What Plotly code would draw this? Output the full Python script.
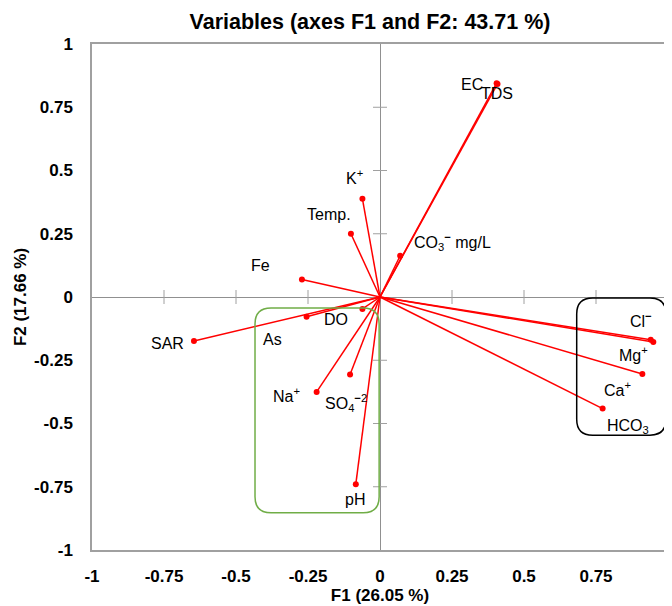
import plotly.graph_objects as go

# ---------------- data ----------------
variables = ["EC", "TDS", "K+", "Temp.", "CO3- mg/L", "Fe", "SAR", "As", "DO",
             "Na+", "SO4-2", "pH", "Cl-", "Mg+", "Ca+", "HCO3"]
labels_html = ["EC", "TDS", "K<sup>+</sup>", "Temp.",
               "CO<sub>3</sub><sup><b>−</b></sup> mg/L", "Fe", "SAR", "As", "DO",
               "Na<sup>+</sup>", "SO<sub>4</sub><sup><b>−</b>2</sup>", "pH",
               "Cl<sup><b>−</b></sup>", "Mg<sup>+</sup>", "Ca<sup>+</sup>", "HCO<sub>3</sub>"]
f1 = [0.405, 0.408, -0.061, -0.101, 0.070, -0.271, -0.646, -0.255, -0.061,
      -0.220, -0.104, -0.084, 0.949, 0.940, 0.911, 0.773]
f2 = [0.845, 0.842, 0.388, 0.250, 0.163, 0.069, -0.174, -0.078, -0.047,
      -0.375, -0.306, -0.740, -0.178, -0.169, -0.304, -0.441]

tick_vals = [-1, -0.75, -0.5, -0.25, 0, 0.25, 0.5, 0.75, 1]
tick_text = ["-1", "-0.75", "-0.5", "-0.25", "0", "0.25", "0.5", "0.75", "1"]

title_text = "Variables (axes F1 and F2: 43.71 %)"
x_title = "F1 (26.05 %)"
y_title = "F2 (17.66 %)"

# group boxes (x0, x1, y0, y1) in factor coordinates
group_boxes = [(-0.434, -0.003, -0.853, -0.043), (0.683, 0.993, -0.546, -0.004)]
group_colors = ["#70AD47", "#000000"]

# ---------------- style / layout ----------------
# label offsets in pixels (dx right, dy down) relative to each point
label_offsets = {
    "EC": (-25, 1, "center"), "TDS": (-1, 10, "center"), "K+": (-8, -22, "center"),
    "Temp.": (-22, -19, "center"), "CO3- mg/L": (12, -14, "left"), "Fe": (-41, -14, "center"),
    "SAR": (-26, 2, "center"), "As": (-34, 23, "center"), "DO": (-26, 11, "center"),
    "Na+": (-30, 3, "center"), "SO4-2": (-4, 29, "center"), "pH": (-1, 15, "center"),
    "Cl-": (-12, -22, "center"), "Mg+": (-17, 14, "center"), "Ca+": (-25, 15, "center"),
    "HCO3": (25, 18, "center"),
}

# the page body adds an 8px offset; the figure is sized so the plot area
# lands at the same page position as in the reference
OFF = 8
W, H = 672 - OFF, 606 - OFF
ML, MR, MT, MB = 92 - OFF, 4, 44 - OFF, 56
PW, PH = W - ML - MR, H - MT - MB
px_x = PW / 2.0   # pixels per unit
px_y = PH / 2.0
FONT = "Liberation Sans, Arial, sans-serif"
GREY = "#A0A0A0"

fig = go.Figure()

# vectors
lx, ly = [], []
for a, b in zip(f1, f2):
    lx += [0, a, None]
    ly += [0, b, None]
fig.add_trace(go.Scatter(x=lx, y=ly, mode="lines",
                         line=dict(color="#FF0000", width=1.5),
                         hoverinfo="skip", showlegend=False))
fig.add_trace(go.Scatter(x=f1, y=f2, mode="markers", text=variables,
                         marker=dict(color="#FF0000", size=6),
                         showlegend=False))

# tick marks on the zero axes
inner = [v for v in tick_vals if v not in (-1, 0, 1)]
fig.add_trace(go.Scatter(x=inner, y=[0] * len(inner), mode="markers",
                         marker=dict(symbol="line-ns", size=10,
                                     line=dict(color=GREY, width=1)),
                         hoverinfo="skip", showlegend=False))
fig.add_trace(go.Scatter(x=[0] * len(inner), y=inner, mode="markers",
                         marker=dict(symbol="line-ew", size=10,
                                     line=dict(color=GREY, width=1)),
                         hoverinfo="skip", showlegend=False))

# labels
for name, lab, a, b in zip(variables, labels_html, f1, f2):
    dx, dy, anc = label_offsets[name]
    fig.add_annotation(x=a, y=b, text=lab, showarrow=False,
                       xshift=dx, yshift=-dy, xanchor=anc, yanchor="middle",
                       font=dict(family=FONT, size=16, color="#000000"))


def rounded_path(x0, x1, y0, y1, r_px):
    rx, ry = r_px / px_x, r_px / px_y
    return (f"M {x0 + rx},{y1} L {x1 - rx},{y1} Q {x1},{y1} {x1},{y1 - ry} "
            f"L {x1},{y0 + ry} Q {x1},{y0} {x1 - rx},{y0} "
            f"L {x0 + rx},{y0} Q {x0},{y0} {x0},{y0 + ry} "
            f"L {x0},{y1 - ry} Q {x0},{y1} {x0 + rx},{y1} Z")


for (x0, x1, y0, y1), col in zip(group_boxes, group_colors):
    fig.add_shape(type="path", path=rounded_path(x0, x1, y0, y1, 16),
                  xref="x", yref="y", line=dict(color=col, width=1.5),
                  layer="above")

axis_common = dict(range=[-1, 1], tickvals=tick_vals, ticktext=tick_text,
                   showgrid=False, zeroline=True, zerolinecolor="#909090",
                   zerolinewidth=1, showline=True, mirror=True,
                   linecolor=GREY, linewidth=1.5, ticks="", automargin=False,
                   tickfont=dict(family=FONT, size=17, color="#000000", weight="bold"))

fig.update_layout(
    width=W, height=H,
    margin=dict(l=ML, r=MR, t=MT, b=MB, autoexpand=False),
    paper_bgcolor="white", plot_bgcolor="white",
    title=dict(text=title_text, x=(370 - OFF) / W, xanchor="center",
               y=1 - (21 - OFF) / H, yanchor="middle",
               font=dict(family=FONT, size=21.5, color="#000000", weight="bold")),
    xaxis=dict(**axis_common, ticklabelstandoff=10,
               title=dict(text=x_title, standoff=4,
                          font=dict(family=FONT, size=17, color="#000000", weight="bold"))),
    yaxis=dict(**axis_common, ticklabelstandoff=14,
               title=dict(text=y_title, standoff=3,
                          font=dict(family=FONT, size=17, color="#000000", weight="bold"))),
    showlegend=False,
)

fig.write_html("out.html")
